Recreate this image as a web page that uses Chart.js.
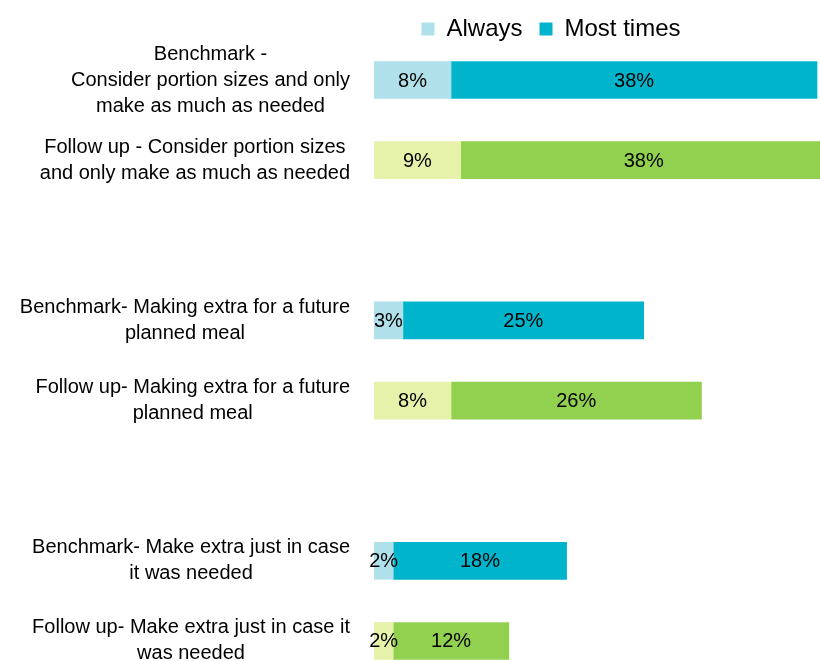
<!DOCTYPE html>
<html>
<head>
<meta charset="utf-8">
<script src="https://cdn.jsdelivr.net/npm/chart.js@4.4.1/dist/chart.umd.min.js"></script>
<style>
  html, body { margin: 0; padding: 0; background: #fff; }
  canvas { display: block; }
</style>
</head>
<body>
<canvas id="grafico" width="820" height="661"></canvas>
<script>
// Rows top to bottom; empty rows leave the gaps between question groups
const categorias = [
  ['Benchmark -', 'Consider portion sizes and only', 'make as much as needed'],
  ['Follow up - Consider portion sizes', 'and only make as much as needed'],
  [],
  ['Benchmark- Making extra for a future', 'planned meal'],
  ['Follow up- Making extra for a future', 'planned meal'],
  [],
  ['Benchmark- Make extra just in case', 'it was needed'],
  ['Follow up- Make extra just in case it', 'was needed']
];
const always = [8, 9, null, 3, 8, null, 2, 2];
const mostTimes = [38, 38, null, 25, 26, null, 18, 12];

const FONTE = "'Liberation Sans', Arial, sans-serif";
const corAlways = { bench: '#b0e0ea', follow: '#e6f2aa' };
const corMost = { bench: '#00b4cc', follow: '#92d050' };

const linhas = categorias.map((c, i) => i).filter(i => always[i] !== null);
const tipo = i => categorias[i][0].startsWith('Benchmark') ? 'bench' : 'follow';

// category text on the left, each label centred on its own widest line
const rotulosEixo = {
  id: 'rotulosEixo',
  afterDraw(chart) {
    const ctx = chart.ctx;
    const y = chart.scales.y;
    ctx.save();
    ctx.font = '20px ' + FONTE;
    ctx.fillStyle = '#000';
    ctx.textAlign = 'center';
    ctx.textBaseline = 'middle';
    const alturaLinha = 26;
    categorias.forEach((linhasTexto, i) => {
      if (!linhasTexto.length) return;
      const larg = Math.max(...linhasTexto.map(t => ctx.measureText(t).width));
      const cx = 350 - larg / 2;
      const cy = y.getPixelForValue(i);
      const topo = cy - (linhasTexto.length - 1) * alturaLinha / 2;
      linhasTexto.forEach((t, k) => ctx.fillText(t, cx, topo + k * alturaLinha));
    });
    ctx.restore();
  }
};

// percentage printed in the middle of every segment
const rotulosValor = {
  id: 'rotulosValor',
  afterDatasetsDraw(chart) {
    const ctx = chart.ctx;
    ctx.save();
    ctx.font = '20px ' + FONTE;
    ctx.fillStyle = '#000';
    ctx.textAlign = 'center';
    ctx.textBaseline = 'middle';
    chart.data.datasets.forEach((ds, d) => {
      chart.getDatasetMeta(d).data.forEach((barra, j) => {
        ctx.fillText(ds.data[j].x + '%', (barra.x + barra.base) / 2, barra.y + 1);
      });
    });
    ctx.restore();
  }
};

new Chart(document.getElementById('grafico'), {
  type: 'bar',
  data: {
    datasets: [
      {
        label: 'Always',
        data: linhas.map(i => ({ x: always[i], y: i })),
        backgroundColor: linhas.map(i => corAlways[tipo(i)])
      },
      {
        label: 'Most times',
        data: linhas.map(i => ({ x: mostTimes[i], y: i })),
        backgroundColor: linhas.map(i => corMost[tipo(i)])
      }
    ]
  },
  options: {
    indexAxis: 'y',
    responsive: false,
    animation: false,
    barThickness: 37,
    layout: { padding: { left: 282, right: 0, top: 0, bottom: 0 } },
    scales: {
      x: {
        stacked: true,
        display: false,
        min: 0,
        max: 46.31
      },
      y: {
        type: 'linear',
        stacked: true,
        reverse: true,
        offset: false,
        min: -0.362,
        max: 7.25,
        ticks: { display: false },
        grid: { display: false },
        border: { display: false },
        afterFit(scale) { scale.width = 92; }
      }
    },
    plugins: {
      legend: {
        position: 'top',
        labels: {
          boxWidth: 13,
          boxHeight: 13,
          padding: 17,
          color: '#000',
          font: { family: FONTE, size: 24 }
        }
      },
      tooltip: { enabled: false }
    }
  },
  plugins: [rotulosEixo, rotulosValor]
});
</script>
</body>
</html>
